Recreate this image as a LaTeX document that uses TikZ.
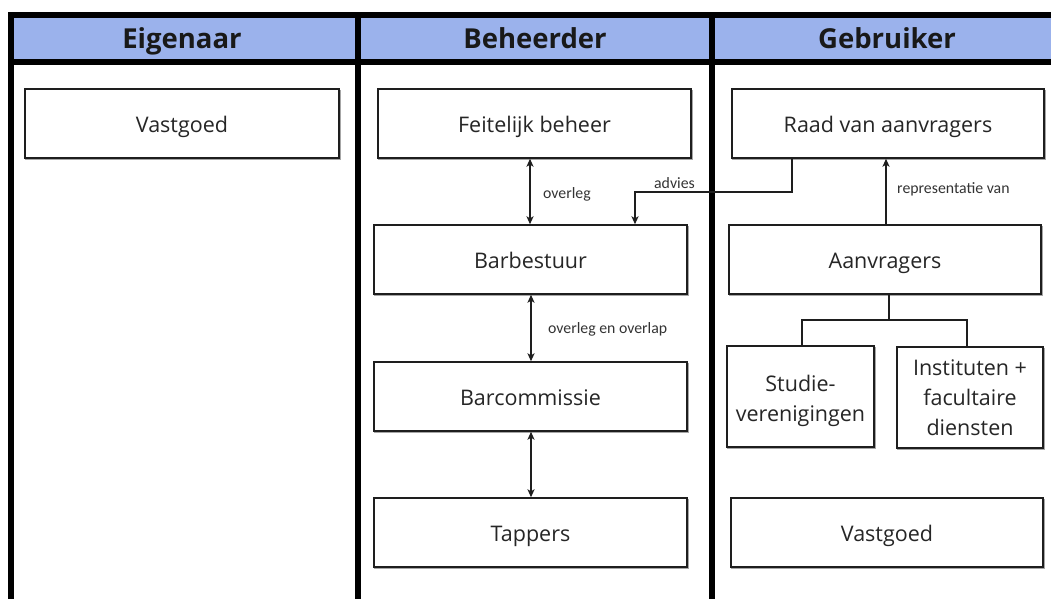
\documentclass[tikz,border=0pt]{standalone}
\usepackage{fontspec}
\setmainfont{Open Sans}
\newfontfamily\lblfont{Carlito}
\usetikzlibrary{arrows.meta}
\definecolor{hdr}{RGB}{155,178,236}
\definecolor{boxline}{RGB}{30,30,30}
\tikzset{
  box/.style={draw=boxline, line width=1.4pt, fill=white, inner sep=0pt, align=center,
    font=\fontsize{21.5}{30}\selectfont, text=black!85,
    preaction={draw=black!35, line width=1.4pt, transform canvas={shift={(0.8pt,-1.6pt)}}}},
  onebox/.style={box, text height=17pt, text depth=0pt},
  hdrtext/.style={font=\fontsize{27.5}{30}\selectfont\bfseries, text=black!90, anchor=base},
  lbl/.style={font=\lblfont\fontsize{15.8}{18}\selectfont, text=black!80, inner sep=0pt},
  frame/.style={line width=6pt, black},
  conn/.style={line width=1.4pt, boxline},
  tip/.style={-{Stealth[length=8pt,width=7pt,inset=2pt]}},
  dtip/.style={{Stealth[length=8pt,width=7pt,inset=2pt]}-{Stealth[length=8pt,width=7pt,inset=2pt]}},
}
\begin{document}
\begin{tikzpicture}[x=1pt,y=-1pt]
\useasboundingbox (0,0) rectangle (1051,598);
\clip (0,0) rectangle (1051,598);
% header band
\fill[hdr] (11,14.5) rectangle (1060,62);
\draw[frame] (1060,14.5) -- (11,14.5) -- (11,610);
\draw[frame] (11,62) -- (1060,62);
\draw[frame] (358,14.5) -- (358,610);
\draw[frame] (712,14.5) -- (712,610);
\node[hdrtext] (hE) at (182,48.5) {Eigenaar};
\node[hdrtext] (hB) at (535,48.5) {Beheerder};
\node[hdrtext] (hG) at (887,48.5) {Gebruiker};
% boxes
\node[onebox, minimum width=314pt, minimum height=69pt] (vastE) at (182,123.5) {Vastgoed};
\node[onebox, minimum width=313pt, minimum height=69pt] (feit) at (534.5,123.5) {Feitelijk beheer};
\node[onebox, minimum width=312pt, minimum height=69pt] (raad) at (888,123.5) {Raad van aanvragers};
\node[onebox, minimum width=313pt, minimum height=69pt] (barb) at (530.5,259.5) {Barbestuur};
\node[onebox, minimum width=312pt, minimum height=69pt] (aanv) at (885,259.5) {Aanvragers};
\node[onebox, minimum width=313pt, minimum height=69pt] (barc) at (530.5,396.5) {Barcommissie};
\node[box, minimum width=147pt, minimum height=101pt] (stud) at (800.5,396.5) {};
\node[align=center, font=\fontsize{21.5}{30}\selectfont, text=black!85, inner sep=0pt] (studt) at (800.5,400.5) {Studie-\\verenigingen};
\node[box, minimum width=146pt, minimum height=101pt] (inst) at (970,397.5) {Instituten +\\facultaire\\diensten};
\node[onebox, minimum width=313pt, minimum height=69pt] (tapp) at (530.5,532.5) {Tappers};
\node[onebox, minimum width=312pt, minimum height=69pt] (vastG) at (887,532.5) {Vastgoed};
% connectors
\draw[conn, dtip] (feit.south -| 530,0) -- (barb.north -| 530,0);
\node[lbl, anchor=west] (l1) at (543,194) {overleg};
\draw[conn, dtip] (barb.south -| 531,0) -- (barc.north -| 531,0);
\node[lbl, anchor=west] (l2) at (548,329) {overleg en overlap};
\draw[conn, dtip] (barc.south -| 531,0) -- (tapp.north -| 531,0);
\draw[conn, tip] (aanv.north -| 886,0) -- (raad.south -| 886,0);
\node[lbl, anchor=west] (l3) at (897,189) {representatie van};
\coordinate (a1) at (792,192);
\coordinate (a2) at (635,192);
\draw[conn, tip] (raad.south -| a1) -- (a1) -- (a2) -- (barb.north -| a2);
\node[lbl, anchor=south] (l4) at (674.5,189) {advies};
\coordinate (t1) at (889,320);
\draw[conn] (aanv.south -| t1) -- (t1);
\draw[conn] (stud.north -| 802,0) -- (802,320) -- (967,320) -- (inst.north -| 967,0);
\end{tikzpicture}
\end{document}
